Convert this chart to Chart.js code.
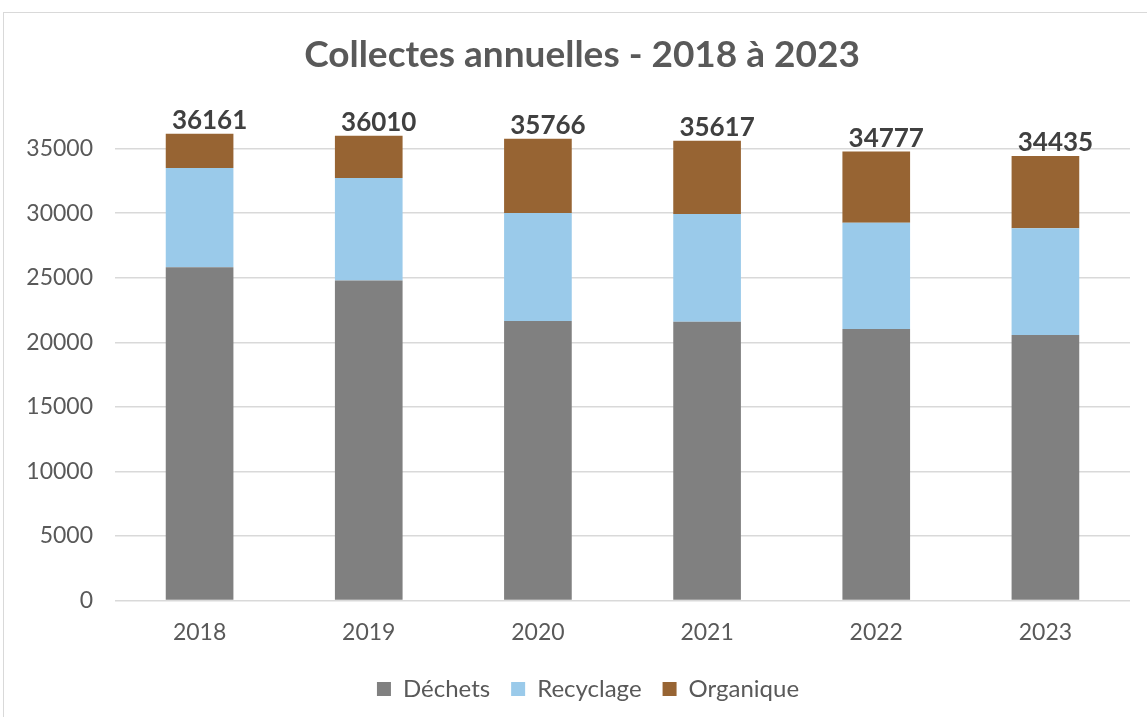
<!DOCTYPE html>
<html>
<head>
<meta charset="utf-8">
<script src="https://cdn.jsdelivr.net/npm/chart.js@4.4.1/dist/chart.umd.min.js"></script>
<style>
  html, body { margin: 0; padding: 0; background: #fff; overflow: hidden; }
  #frame { position: absolute; left: 3px; top: 12px; width: 1160px; height: 720px; border: 1px solid #d9d9d9; }
  #chartCollectes { position: absolute; left: 0; top: 0; }
</style>
</head>
<body>
<div id="frame"></div>
<canvas id="chartCollectes" width="1147" height="717"></canvas>
<script>
const titre = "Collectes annuelles - 2018 à 2023";
const annees = ["2018", "2019", "2020", "2021", "2022", "2023"];
const dechets = [25815, 24791, 21649, 21600, 21031, 20566];
const recyclage = [7700, 7941, 8371, 8350, 8240, 8271];
const organique = [2646, 3278, 5746, 5667, 5506, 5598];
const ticksY = [0, 5000, 10000, 15000, 20000, 25000, 30000, 35000];

const texteGris = "#595959";

// titre + totaux au-dessus des barres, legende decalee a droite
const totauxPlugin = {
  id: "totaux",
  afterLayout(chart) {
    chart.legend.left += 23;
    chart.legend.right += 23;
  },
  afterDatasetsDraw(chart) {
    const ctx = chart.ctx;
    const meta = chart.getDatasetMeta(chart.data.datasets.length - 1);
    ctx.save();
    ctx.textAlign = "center";
    ctx.font = "bold 37px Lato";
    ctx.fillStyle = texteGris;
    ctx.textBaseline = "middle";
    ctx.fillText(titre, 582, 55);

    ctx.font = "bold 26px Lato";
    ctx.fillStyle = "#404040";
    ctx.textBaseline = "alphabetic";
    meta.data.forEach((bar, i) => {
      const total = dechets[i] + recyclage[i] + organique[i];
      ctx.fillText(String(total), bar.x + 10, bar.y - 5);
    });
    ctx.restore();
  },
};

new Chart(document.getElementById("chartCollectes"), {
  type: "bar",
  data: {
    labels: annees,
    datasets: [
      { label: "Déchets", data: dechets, backgroundColor: "#808080" },
      { label: "Recyclage", data: recyclage, backgroundColor: "#9acaea" },
      { label: "Organique", data: organique, backgroundColor: "#976433" },
    ],
  },
  options: {
    responsive: false,
    animation: false,
    layout: { padding: { top: 110, right: 17, bottom: 6, left: 0 } },
    datasets: { bar: { categoryPercentage: 1, barPercentage: 0.4 } },
    plugins: {
      title: { display: false },
      legend: {
        position: "bottom",
        labels: {
          color: texteGris,
          font: { family: "Lato", size: 24 },
          boxWidth: 14,
          boxHeight: 14,
          padding: 21,
        },
      },
      tooltip: { enabled: false },
    },
    scales: {
      x: {
        stacked: true,
        grid: { display: false },
        border: { display: false },
        ticks: { color: texteGris, font: { family: "Lato", size: 23 }, padding: 10 },
      },
      y: {
        stacked: true,
        min: 0,
        max: 38000,
        afterBuildTicks(axis) {
          axis.ticks = ticksY.map((v) => ({ value: v }));
        },
        afterFit(axis) {
          axis.width = 115;
        },
        ticks: {
          color: texteGris,
          font: { family: "Lato", size: 23 },
          padding: 22,
          callback: (v) => String(v),
        },
        grid: { color: "#d9d9d9", lineWidth: 1.5, drawTicks: false },
        border: { display: false },
      },
    },
  },
  plugins: [totauxPlugin],
});
</script>
</body>
</html>
